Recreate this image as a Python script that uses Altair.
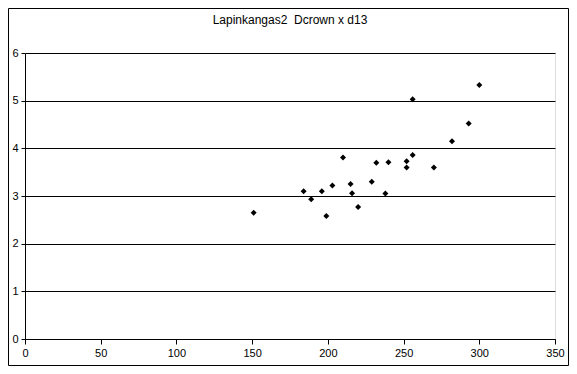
import altair as alt
import pandas as pd

title_text = "Lapinkangas2\u00a0\u00a0Dcrown x d13"
x_vals = [151, 184, 189, 196, 199, 203, 210, 215, 216, 220, 229, 232, 238, 240, 252, 252, 256, 256, 270, 282, 293, 300]
y_vals = [2.65, 3.10, 2.93, 3.10, 2.58, 3.22, 3.81, 3.25, 3.06, 2.77, 3.30, 3.70, 3.05, 3.71, 3.73, 3.60, 5.03, 3.86, 3.60, 4.15, 4.52, 5.33]

df = pd.DataFrame({"x": x_vals, "y": y_vals})

W, H = 530, 286
PL, PT, PR, PB = 17, 45, 14, 27
FONT = "Liberation Sans"

points = alt.Chart(df).mark_point(shape="diamond", filled=True, color="black", size=36, opacity=1).encode(
    x=alt.X("x:Q", scale=alt.Scale(domain=[0, 350], nice=False),
            axis=alt.Axis(values=[0, 50, 100, 150, 200, 250, 300, 350], grid=False, title=None,
                          domainColor="black", domainOpacity=1, tickColor="black", tickSize=5, labelPadding=3,
                          labelColor="black", labelFont=FONT, labelFontSize=11, labelFlush=False)),
    y=alt.Y("y:Q", scale=alt.Scale(domain=[0, 6], nice=False),
            axis=alt.Axis(values=[0, 1, 2, 3, 4, 5, 6], grid=True, gridColor="black", gridOpacity=1,
                          title=None, domainColor="black", domainOpacity=1, tickColor="black", tickSize=4,
                          labelPadding=3, labelColor="black", labelFont=FONT, labelFontSize=11)),
)

title = alt.Chart(pd.DataFrame({"t": [title_text]})).mark_text(
    font=FONT, fontSize=12, color="black", baseline="middle", align="center"
).encode(text="t:N", x=alt.value(265), y=alt.value(-33))

border = alt.Chart(pd.DataFrame({"a": [0]})).mark_rect(
    fill=None, fillOpacity=0, stroke="black", strokeWidth=1
).encode(x=alt.value(-PL + 0.5), x2=alt.value(W + PR - 0.5),
         y=alt.value(-PT + 0.5), y2=alt.value(H + PB - 0.5))

chart = alt.layer(points, title, border).properties(
    width=W, height=H,
    autosize=alt.AutoSizeParams(type="none"),
    padding={"left": PL, "top": PT, "right": PR, "bottom": PB},
).configure_view(stroke="black", strokeWidth=1).configure(background="white")

chart.save("out.html", embed_options={"renderer": "svg", "actions": False})
